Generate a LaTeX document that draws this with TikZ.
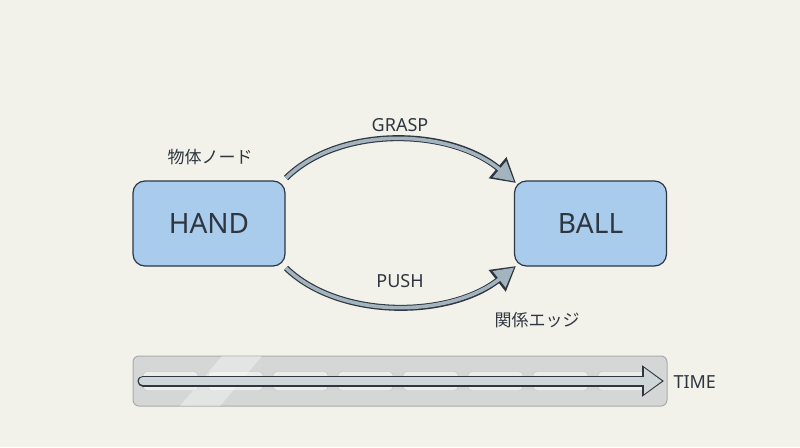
\documentclass[tikz,border=0pt]{standalone}
\usepackage{fontspec}
\setmainfont{Noto Sans}
\newfontfamily\cjk{Noto Sans CJK JP}
\usetikzlibrary{arrows.meta}
\definecolor{bgcol}{HTML}{F3F2EA}
\definecolor{boxblue}{HTML}{A9CBEC}
\definecolor{darkline}{HTML}{2E3640}
\definecolor{arrowfill}{HTML}{A3B4BE}
\definecolor{stripfill}{HTML}{D5D7D6}
\definecolor{cellfill}{HTML}{ECEDE8}
\begin{document}
\begin{tikzpicture}[x=1pt,y=-1pt,
  objbox/.style={draw=darkline,line width=1.2,fill=boxblue,rounded corners=12,minimum width=152,minimum height=85,font=\fontsize{28}{28}\selectfont\bfseries,text=darkline},
  label/.style={font=\fontsize{18}{18}\selectfont,text=darkline},
  jplabel/.style={font=\cjk\fontsize{17}{17}\selectfont,text=darkline},
  bigarrow/.style={line width=6,darkline,-{Triangle[length=24,width=26]}},
  innerarrow/.style={line width=3.6,arrowfill,-{Triangle[length=19,width=20]}},
  cell/.style={draw=stripfill!70!black!60,fill=cellfill,rounded corners=4,minimum width=55,minimum height=19}]
\fill[bgcol] (0,0) rectangle (800,447);
\useasboundingbox (0,0) rectangle (800,447);
% objects
\node[objbox] (hand) at (209,223.5) {HAND};
\node[objbox] (ball) at (590.5,223.5) {BALL};
\node[jplabel] (objlbl) at (210,157) {物体ノード};
% relations
\coordinate (gs) at (286,178);
\coordinate (ge) at (516,183);
\coordinate (ps) at (286,268);
\coordinate (pe) at (516,266);
\draw[bigarrow] (gs) .. controls (340,125) and (450,128) .. (ge);
\draw[innerarrow,shorten >=2.5] (gs) .. controls (340,125) and (450,128) .. (ge);
\draw[bigarrow] (ps) .. controls (340,320) and (450,318) .. (pe);
\draw[innerarrow,shorten >=2.5] (ps) .. controls (340,320) and (450,318) .. (pe);
\node[label] (grasp) at (400,125) {GRASP};
\node[label] (push) at (400,281) {PUSH};
\node[jplabel] (rellbl) at (537,320) {関係エッジ};
% timeline
\node[draw=stripfill!80!black,fill=stripfill,rounded corners=6,minimum width=534,minimum height=50,line width=1] (strip) at (400,381) {};
\foreach \i in {0,...,7}
  \node[cell] (c\i) at (170.5+65*\i,381) {};
\fill[white,opacity=0.35] (222,356) -- (262,356) -- (220,406) -- (180,406) -- cycle;
\coordinate (ts) at (143,381);
\coordinate (te) at (664,381);
\draw[line width=11,darkline,line cap=round,-{Triangle[length=22,width=30]}] (ts) -- (te);
\draw[line width=8.4,cellfill!60!arrowfill,line cap=round,-{Triangle[length=18,width=25]},shorten >=2] (ts) -- (te);
\node[label,anchor=west] (time) at (670,382) {TIME};
\end{tikzpicture}
\end{document}
